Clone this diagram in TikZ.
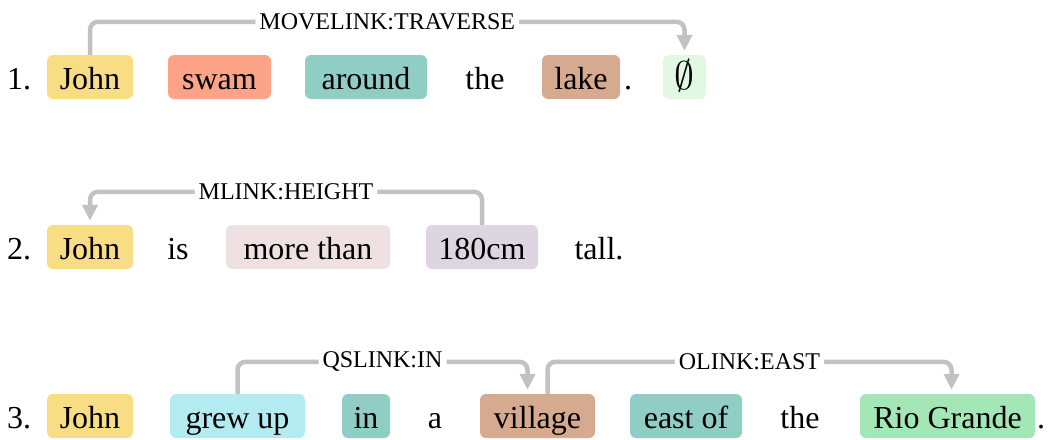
\documentclass[tikz,border=0pt]{standalone}
\usepackage{fontspec}
\setmainfont{Liberation Serif}
\usetikzlibrary{arrows.meta}
\definecolor{cyellow}{HTML}{F8DD84}
\definecolor{csalmon}{HTML}{FCA388}
\definecolor{cteal}{HTML}{8FCDC5}
\definecolor{ctan}{HTML}{D6AA8F}
\definecolor{cmint}{HTML}{E1F8E3}
\definecolor{cpink}{HTML}{EEE0E3}
\definecolor{clav}{HTML}{DDD5E1}
\definecolor{ccyan}{HTML}{B2ECF1}
\definecolor{cgreen}{HTML}{A4E7B6}
\definecolor{linkgray}{HTML}{C2C2C2}
\begin{document}
\begin{tikzpicture}[x=1pt,y=-1pt,
  word/.style={anchor=base, inner sep=0pt, font=\fontsize{32}{38}\selectfont},
  tok/.style={word, rounded corners=6pt, text height=34pt, text depth=10pt,
    inner xsep=0pt, inner ysep=0pt, align=center},
  link/.style={draw=linkgray, line width=4.5pt, rounded corners=8pt,
    shorten >=4pt, -{Triangle[length=16pt,width=15pt]}},
  lab/.style={fill=white, inner xsep=4pt, inner ysep=1pt,
    font=\fontsize{24}{28}\selectfont}]
\useasboundingbox (0,0) rectangle (1049,439);

% sentence 1
\node[word] (n1) at (19,89) {1.};
\node[tok, fill=cyellow, minimum width=86] (j1) at (90,89) {John};
\node[tok, fill=csalmon, minimum width=103] (s1) at (219.5,89) {swam};
\node[tok, fill=cteal, minimum width=122] (a1) at (366,89) {around};
\node[word] (t1) at (485,89) {the};
\node[tok, fill=ctan, minimum width=78] (l1) at (581,89) {lake};
\node[word] (p1) at (628,89) {.};
\node[tok, fill=cmint, minimum width=43] (e1) at (684.5,89) {\scalebox{1.6}{$\emptyset$}};
\draw[link] (j1.north) -- ++(0,-33) -| node[lab, pos=0.25] (m1) {MOVELINK:TRAVERSE} (e1.north);

% sentence 2
\node[word] (n2) at (19,259) {2.};
\node[tok, fill=cyellow, minimum width=86] (j2) at (90,259) {John};
\node[word] (i2) at (178,259) {is};
\node[tok, fill=cpink, minimum width=164] (m2) at (308,259) {more than};
\node[tok, fill=clav, minimum width=112] (c2) at (482,259) {180cm};
\node[word] (t2) at (599,259) {tall.};
\draw[link] (c2.north) -- ++(0,-33) -| node[lab, pos=0.25] (h2) {MLINK:HEIGHT} (j2.north);

% sentence 3
\node[word] (n3) at (19,428) {3.};
\node[tok, fill=cyellow, minimum width=86] (j3) at (90,428) {John};
\node[tok, fill=ccyan, minimum width=135] (g3) at (237.5,428) {grew up};
\node[tok, fill=cteal, minimum width=48] (i3) at (366,428) {in};
\node[word] (a3) at (435,428) {a};
\node[tok, fill=ctan, minimum width=115] (v3) at (537.5,428) {village};
\node[tok, fill=cteal, minimum width=112] (e3) at (686,428) {east of};
\node[word] (t3) at (800,428) {the};
\node[tok, fill=cgreen, minimum width=175] (r3) at (947.5,428) {Rio Grande};
\node[word] (p3) at (1041,428) {.};
\draw[link] (g3.north) -- ++(0,-32) -| node[lab, pos=0.25] (q3) {QSLINK:IN} ([xshift=-10]v3.north);
\draw[link] ([xshift=10]v3.north) -- ++(0,-32) -| node[lab, pos=0.25] (o3) {OLINK:EAST} ([xshift=4]r3.north);
\end{tikzpicture}
\end{document}
